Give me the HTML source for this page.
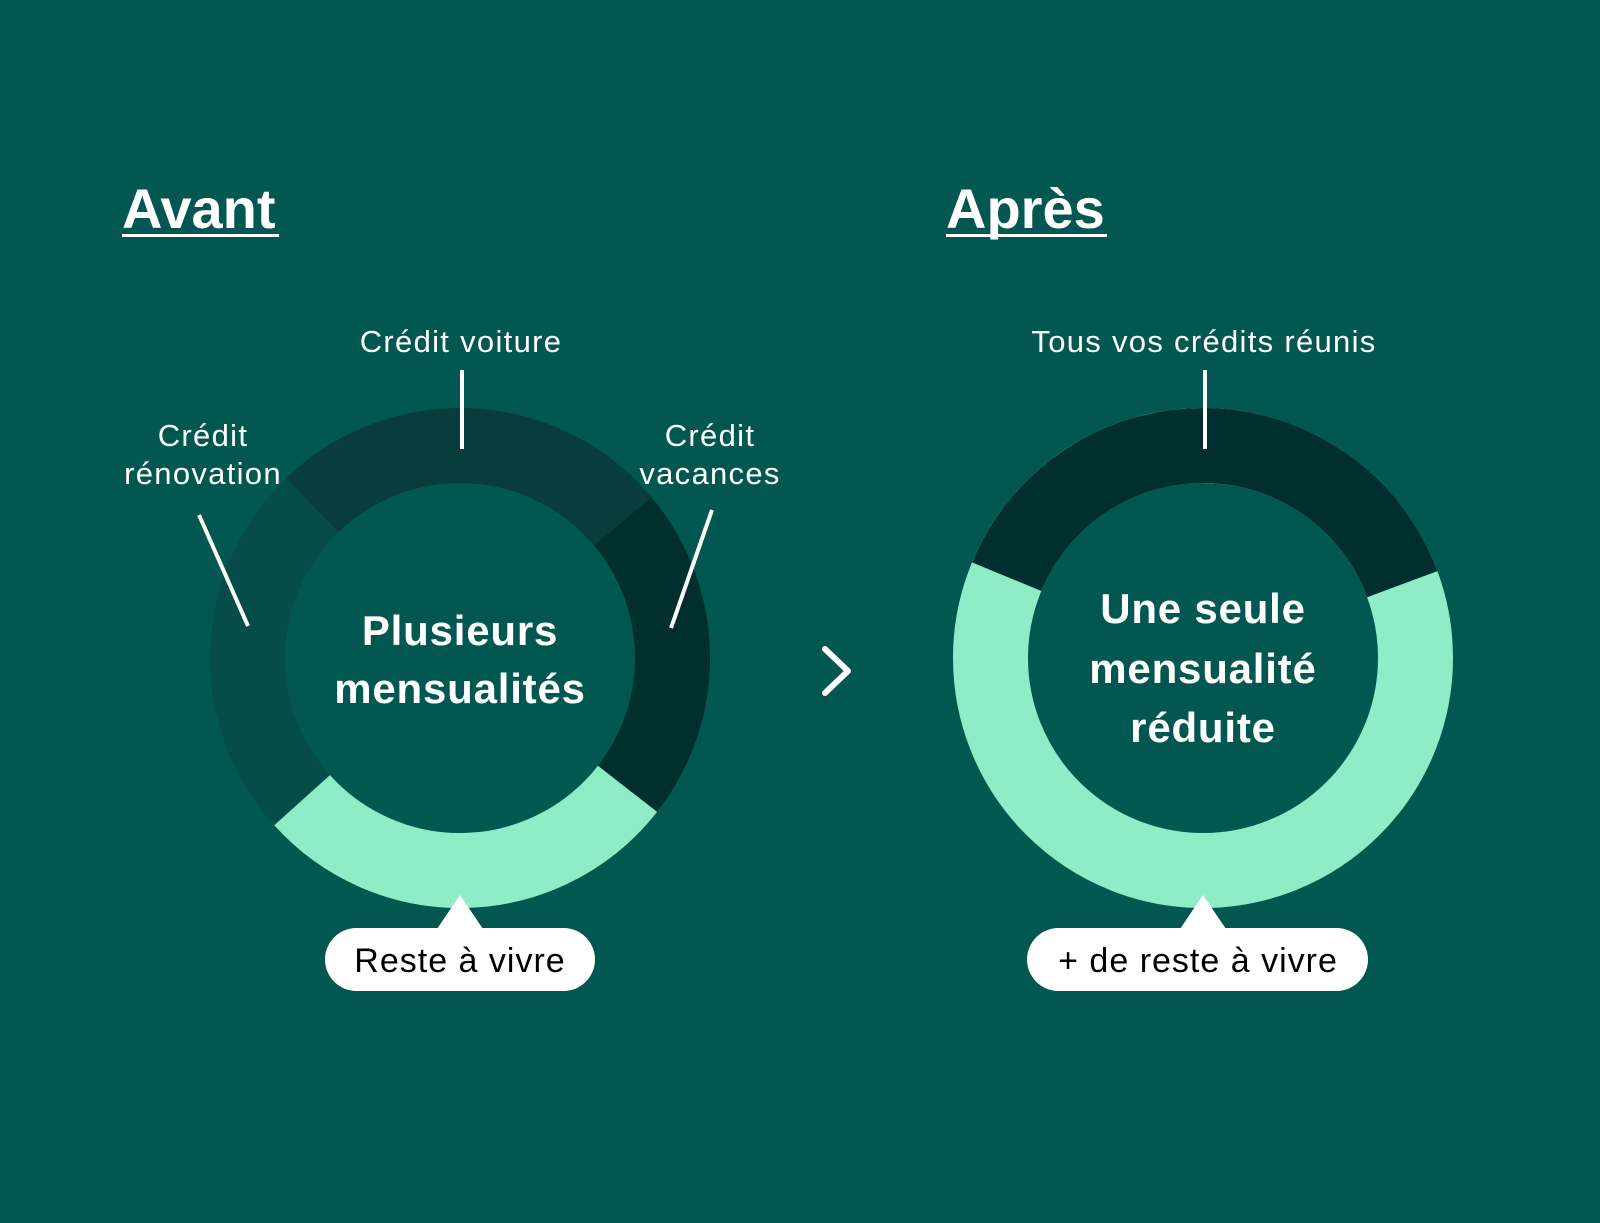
<!DOCTYPE html>
<html><head><meta charset="utf-8"><style>
html,body{margin:0;padding:0;background:#025850;}
svg{display:block;}
text{font-family:"Liberation Sans",sans-serif;}
</style></head><body>
<svg width="1600" height="1223" viewBox="0 0 1600 1223" xmlns="http://www.w3.org/2000/svg">
<rect width="1600" height="1223" fill="#025850"/>
<g fill="none" stroke-width="75">
  <circle cx="460" cy="658" r="212.5" stroke="#064c48"/>
  <path d="M 312.4 505.1 A 212.5 212.5 0 0 1 622.8 521.4" stroke="#093d3d"/>
  <path d="M 622.8 521.4 A 212.5 212.5 0 0 1 627.5 788.8" stroke="#002f2e"/>
  <path d="M 627.5 788.8 A 212.5 212.5 0 0 1 302.1 800.2" stroke="#8eedc7"/>
</g>
<g fill="none" stroke-width="75">
  <circle cx="1203" cy="658" r="212.5" stroke="#8eedc7"/>
  <path d="M 1006.7 576.7 A 212.5 212.5 0 0 1 1402.3 584.2" stroke="#012f2f"/>
</g>
<g stroke="#ffffff" stroke-width="4">
  <line x1="462" y1="370" x2="462" y2="449"/>
  <line x1="199" y1="515" x2="248" y2="626"/>
  <line x1="712" y1="510" x2="671" y2="628"/>
  <line x1="1205" y1="370" x2="1205" y2="449"/>
</g>
<text x="122" y="228" font-size="56" font-weight="bold" fill="#fff">Avant</text>
<rect x="122" y="234" width="157" height="3" fill="#fff"/>
<text x="946" y="228" font-size="56" font-weight="bold" fill="#fff">Après</text>
<rect x="946" y="234" width="161" height="3" fill="#fff"/>
<g fill="#fff" font-size="31" letter-spacing="1.3" text-anchor="middle">
  <text x="461" y="352">Crédit voiture</text>
  <text x="203" y="446">Crédit</text>
  <text x="203" y="484">rénovation</text>
  <text x="710" y="446">Crédit</text>
  <text x="710" y="484">vacances</text>
  <text x="1204" y="352">Tous vos crédits réunis</text>
</g>
<g fill="#fff" font-size="42" font-weight="bold" letter-spacing="0.8" text-anchor="middle">
  <text x="460" y="645">Plusieurs</text>
  <text x="460" y="703">mensualités</text>
  <text x="1203" y="623">Une seule</text>
  <text x="1203" y="683">mensualité</text>
  <text x="1203" y="742">réduite</text>
</g>
<polyline points="825,649 848,671 825,693" fill="none" stroke="#fff" stroke-width="6" stroke-linecap="round" stroke-linejoin="round"/>
<g fill="#fff">
  <polygon points="460,895 437,929 483,929"/>
  <rect x="325" y="928" width="270" height="63" rx="31.5"/>
  <polygon points="1203,895 1180,929 1226,929"/>
  <rect x="1027" y="928" width="341" height="63" rx="31.5"/>
</g>
<g fill="#000" font-size="34" letter-spacing="1" text-anchor="middle">
  <text x="460" y="972">Reste à vivre</text>
  <text x="1198" y="972">+ de reste à vivre</text>
</g>
</svg>
</body></html>
